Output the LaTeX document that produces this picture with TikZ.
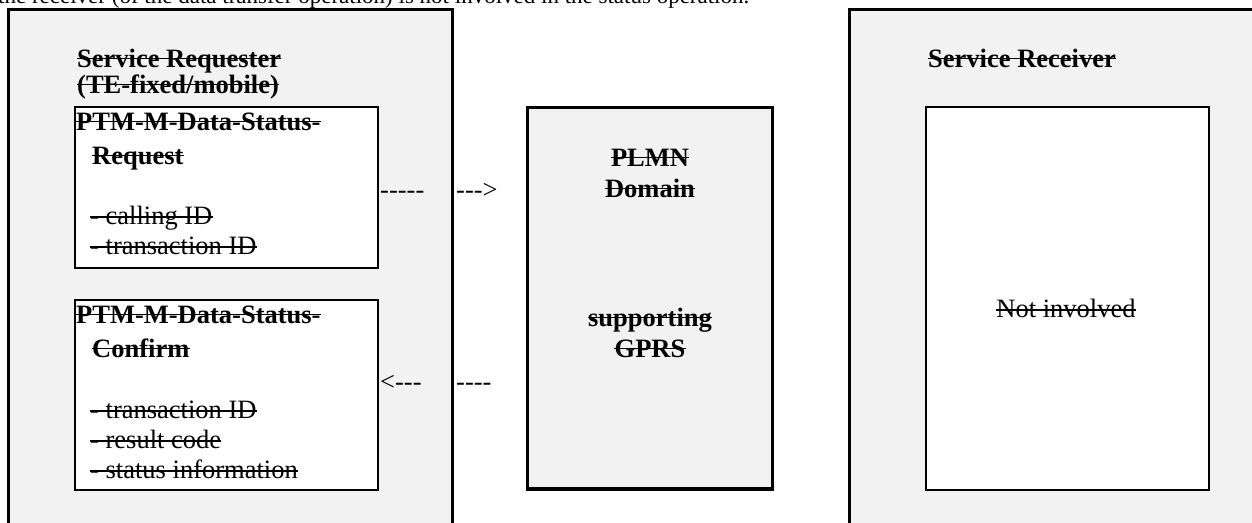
\documentclass[tikz,border=0pt]{standalone}
\usepackage{fontspec}
\setmainfont{Liberation Serif}
\definecolor{panel}{HTML}{F2F2F2}
\begin{document}
\begin{tikzpicture}[x=1pt,y=-1pt,
  bigbox/.style={draw=black,line width=3.5pt,fill=panel},
  innerbox/.style={draw=black,line width=2pt,fill=white},
  lbl/.style={inner sep=0pt,font=\fontsize{26.5}{30}\selectfont\bfseries},
  txt/.style={inner sep=0pt,font=\fontsize{26.5}{30}\selectfont},
  dashtxt/.style={inner sep=0pt,font=\fontsize{26.5}{30}\selectfont},
  strk/.style={draw=black,line width=1.6pt}]
\useasboundingbox (0,0) rectangle (1252,522);
% partially visible sentence above the figure
\node[txt,anchor=base west,font=\fontsize{23}{26}\selectfont] (top) at (-2,4)
  {the receiver (of the data transfer operation) is not involved in the status operation.};
% big panels
\draw[bigbox] (8.5,9.5) rectangle (452.5,545);
\draw[bigbox] (849.5,9.5) rectangle (1275,545);
\draw[bigbox] (527.5,107.5) rectangle (772.5,489);
% inner boxes
\node[innerbox,minimum width=303pt,minimum height=160.5pt,anchor=north west,inner sep=0pt] (req) at (73.5,106) {};
\node[innerbox,minimum width=303pt,minimum height=190pt,anchor=north west,inner sep=0pt] (conf) at (73.5,299) {};
\node[innerbox,minimum width=283pt,minimum height=382.5pt,anchor=north west,inner sep=0pt] (ni) at (924.5,106) {};
% requester panel labels
\node[lbl,anchor=base west] (sreq1) at (77,67) {Service Requester};
\node[lbl,anchor=base west] (sreq2) at (77,93) {(TE-fixed/mobile)};
\node[lbl,anchor=base west] (rq1) at (76,130) {PTM-M-Data-Status-};
\node[lbl,anchor=base west] (rq2) at (92,164) {Request};
\node[txt,anchor=base west] (rq3) at (90,224) {- calling ID};
\node[txt,anchor=base west] (rq4) at (90,254) {- transaction ID};
\node[lbl,anchor=base west] (cf1) at (76,323) {PTM-M-Data-Status-};
\node[lbl,anchor=base west] (cf2) at (92,357) {Confirm};
\node[txt,anchor=base west] (cf3) at (90,418) {- transaction ID};
\node[txt,anchor=base west] (cf4) at (90,448) {- result code};
\node[txt,anchor=base west] (cf5) at (90,478) {- status information};
% PLMN
\node[lbl,anchor=base] (pl1) at (650,166) {PLMN};
\node[lbl,anchor=base] (pl2) at (650,197) {Domain};
\node[lbl,anchor=base] (pl3) at (650,326) {supporting};
\node[lbl,anchor=base] (pl4) at (650,357) {GPRS};
% receiver
\node[lbl,anchor=base west] (srv) at (928,67) {Service Receiver};
\node[txt,anchor=base] (nit) at (1066,317) {Not involved};
% strike-through lines
\foreach \n in {sreq1,sreq2,rq1,rq2,cf1,cf2,pl1,pl2,pl3,pl4,srv}
  \draw[strk] ([yshift=8.5pt]\n.base west) -- ([yshift=8.5pt]\n.base east);
\foreach \n in {rq3,rq4,cf3,cf4,cf5,nit}
  \draw[strk] ([yshift=7pt]\n.base west) -- ([yshift=7pt]\n.base east);
% text arrows
\node[dashtxt,anchor=base west] (a1) at (380,198) {-\mbox{}-\mbox{}-\mbox{}-\mbox{}-};
\node[dashtxt,anchor=base west] (a2) at (456,198) {-\mbox{}-\mbox{}-\mbox{}>};
\node[dashtxt,anchor=base west] (a3) at (380,390) {<\mbox{}-\mbox{}-\mbox{}-};
\node[dashtxt,anchor=base west] (a4) at (456,390) {-\mbox{}-\mbox{}-\mbox{}-};
\end{tikzpicture}
\end{document}
